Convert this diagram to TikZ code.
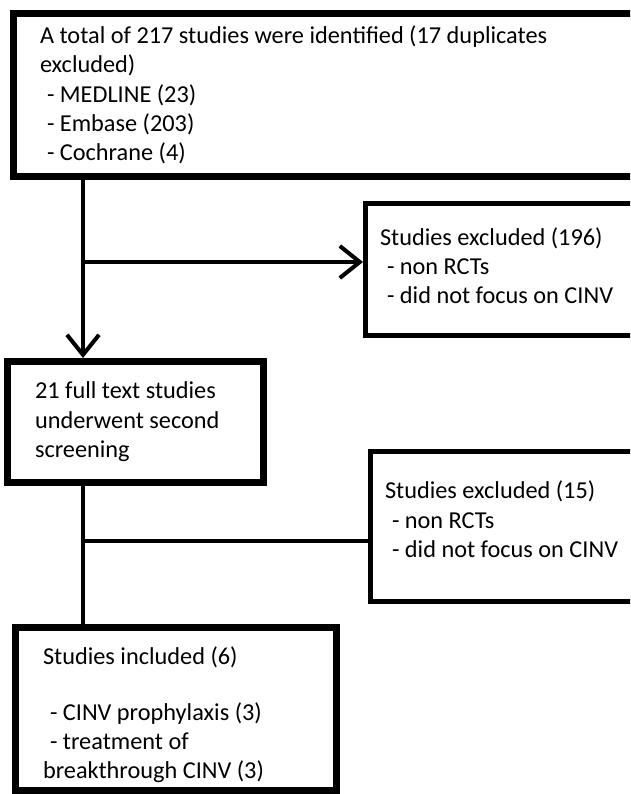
\documentclass[tikz,border=0pt]{standalone}
\usepackage{fontspec}
\setmainfont{Carlito}
\usetikzlibrary{arrows.meta}
\begin{document}
\begin{tikzpicture}[x=1pt,y=-1pt,
  box/.style={draw, rectangle, anchor=north west, align=left, inner ysep=0pt,
    font=\fontsize{24.3}{29.3}\selectfont,
    execute at begin node={\spaceskip=0pt\xspaceskip=0pt}},
  heavy/.style={box, line width=7pt},
  light/.style={box, line width=5pt},
  link/.style={draw, line width=4pt},
  open/.style={-{Straight Barb[length=20pt,width=32pt]}}]
\useasboundingbox (0,0) rectangle (630,794);
\clip (0,0) rectangle (630,794);

\node[heavy, inner xsep=26.5pt, text width=633.5pt, minimum height=163pt] (ident) at (10,10)
  {A total of 217 studies were identified (17 duplicates\\excluded)\\
   \hspace*{7pt}- MEDLINE (23)\\\hspace*{7pt}- Embase (203)\\\hspace*{7pt}- Cochrane (4)};
\node[light, inner xsep=14.5pt, text width=300pt, minimum height=132pt, text depth=66pt] (excl1) at (363,201)
  {Studies excluded (196)\\\hspace*{7pt}- non RCTs\\\hspace*{7pt}- did not focus on CINV};
\node[heavy, inner xsep=28pt, text width=200.5pt, minimum height=120.5pt] (screen) at (3.5,358)
  {21 full text studies\\underwent second\\screening};
\node[light, inner xsep=15pt, text width=300pt, minimum height=150pt, text depth=72pt] (excl2) at (367.5,448.5)
  {Studies excluded (15)\\\hspace*{7pt}- non RCTs\\\hspace*{7pt}- did not focus on CINV};
\node[heavy, inner xsep=27.5pt, text width=265.5pt, minimum height=162.5pt, text height=30pt] (incl) at (12,624)
  {Studies included (6)\\[26pt]\hspace*{7pt}- CINV prophylaxis (3)\\
   \hspace*{7pt}- treatment of\\breakthrough CINV (3)};

\coordinate (spine) at (83,0);
\coordinate (fork1) at (83,262);
\coordinate (fork2) at (83,541);
\path[link,open] (spine |- ident.south) -- (spine |- screen.north);
\path[link,open] (fork1) -- (fork1 -| excl1.west);
\path[link] (spine |- screen.south) -- (spine |- incl.north);
\path[link] (fork2) -- (fork2 -| excl2.west);
\end{tikzpicture}
\end{document}
